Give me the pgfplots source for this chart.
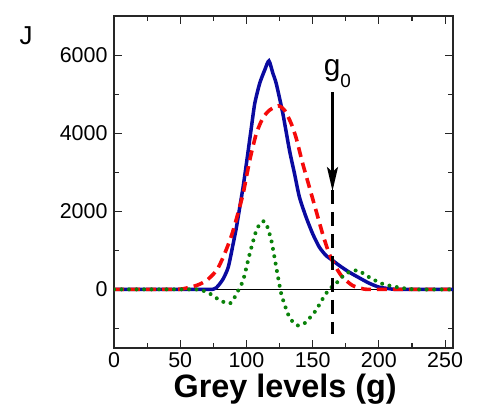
\documentclass[border=0pt]{standalone}
\usepackage{pgfplots}
\pgfplotsset{compat=1.18}
\usepackage{fontspec}
\setmainfont{Liberation Sans}
\usetikzlibrary{arrows.meta}
\definecolor{cblue}{RGB}{10,10,160}
\definecolor{cred}{RGB}{245,10,10}
\definecolor{cgreen}{RGB}{10,130,10}
\begin{document}
\begin{tikzpicture}
\begin{axis}[name=ax, scale only axis, width=339bp, height=332bp,
 xmin=0, xmax=256, ymin=-1500, ymax=7000,
 xtick={0,50,...,250}, ytick={0,2000,4000,6000},
 minor xtick={25,75,...,225}, minor ytick={-1000,1000,3000,5000},
 tick align=inside, major tick length=8bp, minor tick length=5bp,
 tick style={line width=1.1bp, black!85},
 axis line style={line width=1.3bp, black!85},
 ticklabel style={font=\fontsize{21.5}{24}\selectfont},
 yticklabel style={xshift=-3bp},
 xticklabel style={yshift=-1bp},
 /pgf/number format/assume math mode=true,
 /pgf/number format/set thousands separator={},
 xlabel={Grey levels (g)},
 xlabel style={font=\fontsize{32.5}{36}\selectfont\bfseries, at={(axis description cs:0.505,0)}, anchor=base, yshift=-50bp},
]
\addplot[black, line width=0.9bp] coordinates {(0,0) (256,0)};
\addplot[cblue, line width=3.5bp, smooth, tension=0.4] coordinates {
(0,0) (60,0) (75,5) (78.8,100) (82.5,274) (86.3,572) (90,1171) (92.5,1598) (95,2110) (97.5,2623) (100,3222) (103.8,4162) (106.3,4761) (110,5273) (113.8,5615) (117,5850) (120,5530) (122.5,5273) (127.5,4504) (132.5,3564) (136.3,2966) (140,2367) (145,1855) (150,1427) (155,1085) (160,872) (165,744) (170,615) (177.5,444) (185,300) (192.5,162) (200,60) (207.5,20) (215,0) (256,0)};
\addplot[cred, line width=3.6bp, dash pattern=on 10bp off 6bp, smooth, tension=0.4] coordinates {
(0,0) (45,0) (52.5,18) (62.5,103) (70,231) (77.5,487) (82.5,829) (87.5,1256) (90,1513) (92.5,1812) (97.5,2453) (102.5,3308) (107.5,3992) (112.5,4393) (117.5,4590) (124,4700) (128.8,4590) (133.8,4248) (137.5,3883) (142.5,3222) (147.5,2623) (152.5,2025) (157.5,1427) (162.5,915) (167.5,572) (172.5,316) (180,103) (187.5,20) (195,0) (256,0)};
\addplot[cgreen, line width=4bp, dash pattern=on 0bp off 7.5bp, line cap=round, smooth, tension=0.4] coordinates {
(0,0) (60,0) (67,-30) (72.5,-110) (80,-280) (86,-360) (89,-330) (92.5,-110) (97.5,231) (102.5,915) (107.5,1513) (111.3,1726) (113,1745) (115,1683) (118.8,1256) (122.5,572) (126.3,-111) (131.3,-624) (135,-830) (138.8,-923) (142,-900) (145,-838) (152.5,-538) (156,-330) (160,-111) (164,50) (167.5,145) (175,402) (183.8,487) (192.5,316) (202.5,145) (215,50) (227.5,0) (256,0)};
\addplot[black, line width=2.8bp, dash pattern=on 14bp off 8bp] coordinates {(165,2550) (165,-1150)};
\draw[line width=2.6bp, -{Stealth[length=24bp,width=11bp,inset=5bp]}] (axis cs:165,5050) -- (axis cs:165,2520);
\node[anchor=base west, inner sep=0pt, font=\fontsize{30}{32}\selectfont] at (axis cs:158.3,5470) {g\raisebox{-12bp}{\fontsize{19}{20}\selectfont 0}};
\end{axis}
\node[font=\fontsize{26}{28}\selectfont, anchor=center] at ([shift={(-88bp,-20bp)}]ax.north west) {J};
\path ([shift={(-114bp,-66bp)}]ax.south west) rectangle ([shift={(24bp,16bp)}]ax.north east);
\end{tikzpicture}
\end{document}
